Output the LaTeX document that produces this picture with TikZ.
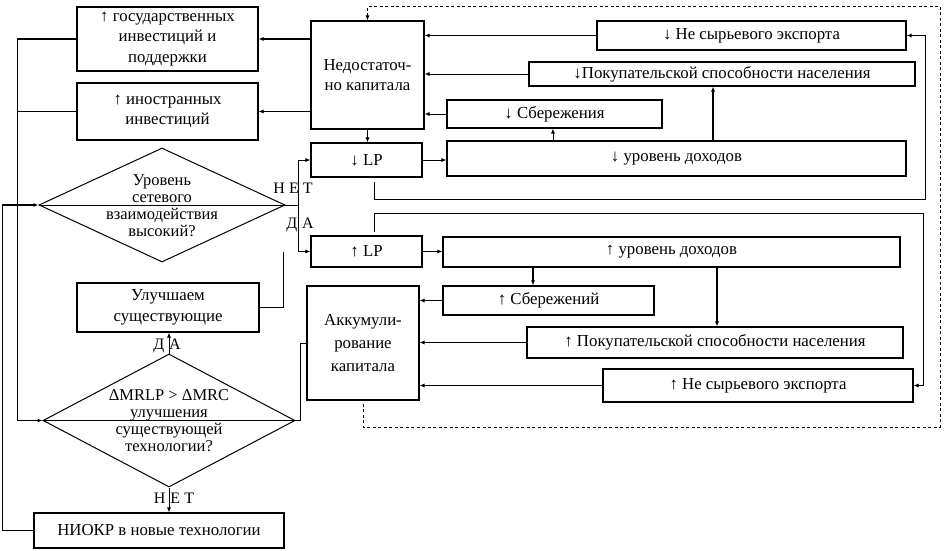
\documentclass[tikz,border=0pt]{standalone}
\usepackage{fontspec}
\setmainfont{Liberation Serif}
\usetikzlibrary{shapes.geometric,arrows.meta,calc}
\begin{document}
\begin{tikzpicture}[x=1pt,y=-1pt,
  box/.style={draw, line width=1.1pt, align=center, inner sep=0pt, font=\fontsize{16.8}{20.5}\selectfont},
  dia/.style={draw, diamond, line width=1pt, inner sep=0pt},
  dtext/.style={align=center, inner sep=0pt, font=\fontsize{16.5}{17}\selectfont},
  lbl/.style={inner sep=0pt, font=\fontsize{16}{16}\selectfont},
  arr/.style={-{Latex[length=5pt,width=4pt]}},
  ln/.style={line width=0.8pt},
  thk/.style={line width=1.7pt}]
\useasboundingbox (0,0) rectangle (945,551);
% boxes
\node[box, minimum width=181, minimum height=64] (gov) at (167.5,39) {↑ государственных\\инвестиций и\\поддержки};
\node[box, minimum width=181, minimum height=57] (forn) at (167.5,111.5) {↑ иностранных\\инвестиций};
\node[box, minimum width=113, minimum height=108] (ned) at (367.5,75) {Недостаточ-\\но капитала};
\node[box, minimum width=111, minimum height=34] (dLP) at (366.5,160) {↓ LP};
\node[box, minimum width=111, minimum height=31] (uLP) at (366.5,251.5) {↑ LP};
\node[box, minimum width=309, minimum height=29] (dExp) at (751.5,35.5) {↓ Не сырьевого экспорта};
\node[box, minimum width=386, minimum height=24] (dPok) at (722,74) {↓Покупательской способности населения};
\node[box, minimum width=215, minimum height=28] (dSav) at (554.5,114) {↓ Сбережения};
\node[box, minimum width=459, minimum height=35] (dInc) at (676.5,158.5) {↓ уровень доходов};
\node[box, minimum width=457, minimum height=30] (uInc) at (671.5,252) {↑ уровень доходов};
\node[box, minimum width=211, minimum height=29] (uSav) at (548.5,300.5) {↑ Сбережений};
\node[box, minimum width=376, minimum height=31] (uPok) at (715,342.5) {↑ Покупательской способности населения};
\node[box, minimum width=310, minimum height=33] (uExp) at (758,385.5) {↑ Не сырьевого экспорта};
\node[box, minimum width=112, minimum height=114, font=\fontsize{16.8}{23}\selectfont] (akk) at (363,343) {Аккумули-\\рование\\капитала};
\node[box, minimum width=182, minimum height=49] (ulu) at (168,307.5) {Улучшаем\\существующие};
\node[box, minimum width=250, minimum height=35] (niokr) at (159,530.5) {НИОКР в новые технологии};
\draw[thk] (dInc.north west) -- (dInc.north east);
% diamonds
\node[dia, minimum width=246, minimum height=114] (d1) at (162,205) {};
\node[dia, minimum width=252, minimum height=133] (d2) at (169,420.5) {};
\draw[ln] (d1.west) -- (d1.east);
\draw[ln] (d2.west) -- (d2.east);
\node[dtext] (d1t) at (162,206) {Уровень\\сетевого\\взаимодействия\\высокий?};
\node[dtext] (d2t) at (169,421) {ΔMRLP > ΔMRC\\улучшения\\существующей\\технологии?};
% labels
\node[lbl] (n1) at (293,188) {Н Е Т};
\node[lbl] (a1) at (300,225) {Д\hspace{5pt}А};
\node[lbl] (a2) at (167,346) {Д\hspace{5pt}А};
\node[lbl] (n2) at (174,498) {Н\hspace{5pt}Е Т};
% connectors to left boxes
\draw[arr,thk] (ned.west |- gov.east) -- (gov.east);
\draw[arr,ln] (ned.west |- forn.east) -- (forn.east);
\draw[arr,thk] (gov.west) -| ($(d2.west)+(-25,0)$) -- (d2.west);
\draw[ln] (forn.west) -- ([xshift=-59pt]forn.west);
\draw[arr,thk] (niokr.west) -| ($(d1.west)+(-36,0)$) -- (d1.west);
% decision 1 outputs
\coordinate (j1) at (298,205);
\draw[ln] (d1.east) -- (j1);
\draw[arr,ln] (j1) |- (dLP.west);
\draw[arr,ln] (j1) |- (uLP.west);
\draw[ln] (ulu.east) -| ($(uLP.west)+(-27,0)$);
% decision 2 outputs
\draw[arr,ln] (d2.north) -- (d2.north |- ulu.south);
\draw[arr,ln] (d2.south) -- (d2.south |- niokr.north);
\draw[ln] (d2.east) -- ++(5,0) |- (akk.west);
% main chain
\draw[arr,ln] (ned.south) -- (ned.south |- dLP.north);
\draw[arr,ln] (dLP.east) -- (dLP.east -| dInc.west);
\draw[arr,ln] (uLP.east) -- (uLP.east -| uInc.west);
\draw[arr,ln] ([xshift=-123.5pt]dInc.north) -- ([xshift=-123.5pt]dInc.north |- dSav.south);
\draw[arr,thk] ([xshift=36.5pt]dInc.north) -- ([xshift=36.5pt]dInc.north |- dPok.south);
\draw[arr,thk] ([xshift=-138.5pt]uInc.south) -- ([xshift=-138.5pt]uInc.south |- uSav.north);
\draw[arr,thk] ([xshift=45.5pt]uInc.south) -- ([xshift=45.5pt]uInc.south |- uPok.north);
% into Nedostatochno
\draw[arr,ln] (dExp.west) -- (dExp.west -| ned.east);
\draw[arr,ln] (dPok.west) -- (dPok.west -| ned.east);
\draw[arr,ln] (dSav.west) -- (dSav.west -| ned.east);
% into Akkumulirovanie
\draw[arr,ln] (uSav.west) -- (uSav.west -| akk.east);
\draw[arr,ln] (uPok.west) -- (uPok.west -| akk.east);
\draw[arr,ln] (uExp.west) -- (uExp.west -| akk.east);
% loops
\coordinate (lA) at (374,182);
\coordinate (lB) at (374,232);
\draw[arr,ln] (lA) |- (925,199) |- (dExp.east);
\draw[arr,ln] (lB) |- (923,213) |- (uExp.east);
% dashed feedback
\coordinate (dS) at ([yshift=-3pt]akk.south);
\draw[arr,ln,dash pattern=on 3pt off 2.5pt] (dS) |- (940,427) |- ([yshift=14pt]ned.north) -- (ned.north);
\end{tikzpicture}
\end{document}
